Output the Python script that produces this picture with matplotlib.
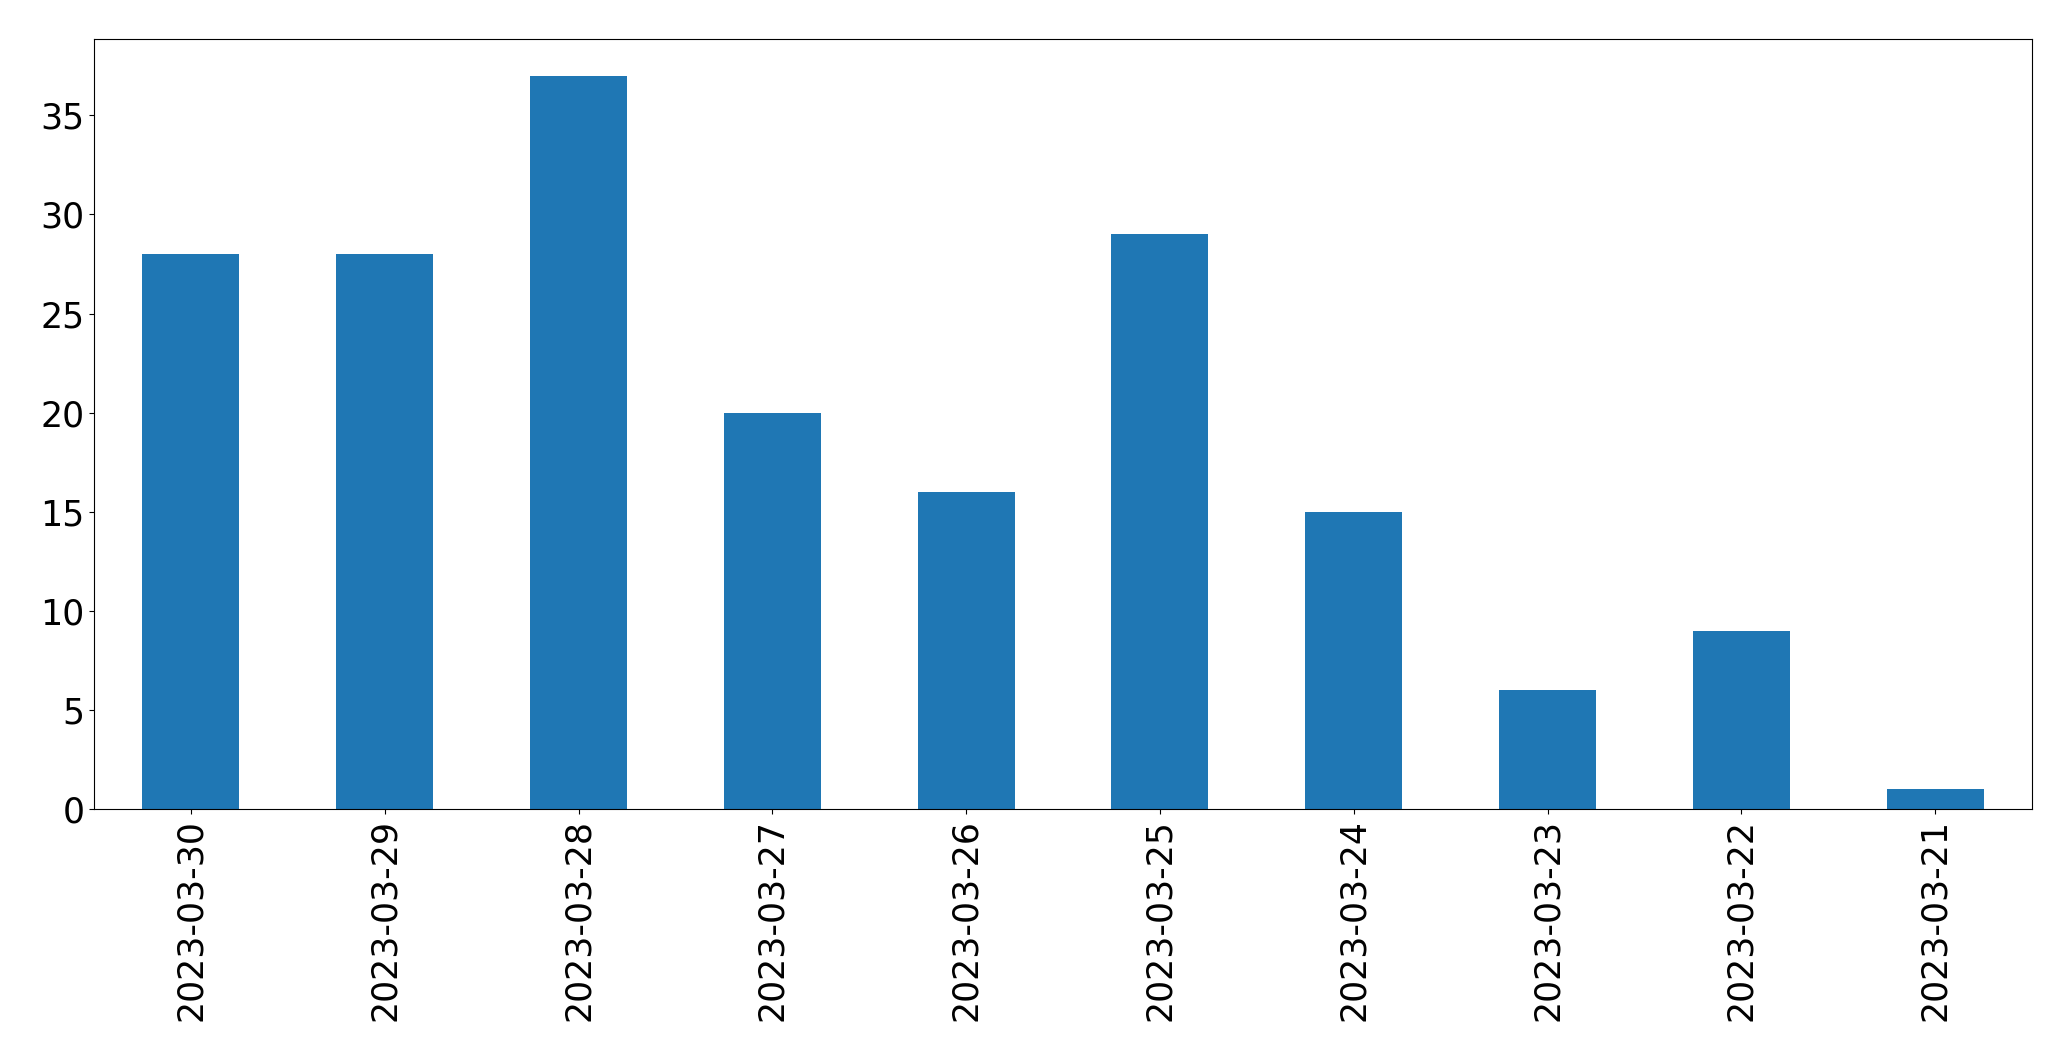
import matplotlib
matplotlib.use("Agg")
import matplotlib.pyplot as plt

# Daily counts, newest first (as in the reference)
dates = ['2023-03-30', '2023-03-29', '2023-03-28', '2023-03-27', '2023-03-26',
         '2023-03-25', '2023-03-24', '2023-03-23', '2023-03-22', '2023-03-21']
counts = [28, 28, 37, 20, 16, 29, 15, 6, 9, 1]

fig = plt.figure(figsize=(20.71, 10.61), dpi=100)
ax = fig.add_axes([94 / 2071, 1 - 809 / 1061, (2032 - 94) / 2071, (809 - 39) / 1061])

x = range(len(dates))
ax.bar(x, counts, width=0.5, color='#1f77b4')
ax.set_xlim(-0.5, len(dates) - 0.5)
ax.set_ylim(0, max(counts) * 1.05)

ax.set_xticks(list(x))
ax.set_xticklabels(dates, rotation=90)
ax.tick_params(axis='both', labelsize=25)

fig.savefig('out.png', dpi=100)
